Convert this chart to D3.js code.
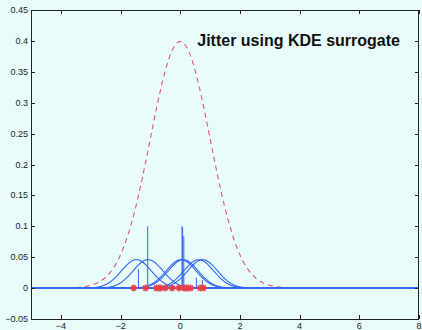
<!DOCTYPE html>
<html>
<head>
<meta charset="utf-8">
<script src="https://cdn.jsdelivr.net/npm/d3@7"></script>
<style>
  html, body { margin: 0; padding: 0; background: #e8fcfc; }
  svg { display: block; }
  text { font-family: "Liberation Sans", Arial, Helvetica, sans-serif; }
</style>
</head>
<body>
<svg id="chart" width="422" height="330"></svg>
<script>
// Axis extents and tick values
const xDomain = [-5, 8];
const yDomain = [-0.05, 0.45];
const xTicks = [-4, -2, 0, 2, 4, 6, 8];
const yTicks = [-0.05, 0, 0.05, 0.1, 0.15, 0.2, 0.25, 0.3, 0.35, 0.4, 0.45];

// Observed sample points (red stars)
const samplePoints = [-1.56, -1.16, -0.80, -0.72, -0.66, -0.50, -0.27, -0.04, 0.12, 0.20, 0.27, 0.35, 0.67, 0.78];

// Kernel centres, bandwidth and peak height of the KDE surrogate bumps
const kernelCenters = [-1.47, -1.08, 0.03, 0.10, 0.62, 0.75];
const kernelBandwidth = 0.5;
const kernelPeak = 0.046;

// Jittered point masses drawn as stems
const stemX = [-1.40, -1.09, 0.06, 0.08, 0.12, 0.54, 0.74];
const stemY = [0.031, 0.100, 0.100, 0.098, 0.084, 0.017, 0.013];

// Reference density: standard normal
const refMean = 0, refSd = 1;

const title = "Jitter using KDE surrogate";
const titlePos = [0.57, 0.392];

const svg = d3.select("#chart");
const plot = { left: 31, right: 419, top: 10, bottom: 319 };

const x = d3.scaleLinear().domain(xDomain).range([plot.left, plot.right]);
const y = d3.scaleLinear().domain(yDomain).range([plot.bottom, plot.top]);

const grid = d3.range(xDomain[0], xDomain[1] + 1e-9, 0.01);
const gauss = (t, m, s) => Math.exp(-0.5 * ((t - m) / s) ** 2);
const line = d3.line().x(d => x(d[0])).y(d => y(d[1]));

svg.append("clipPath").attr("id", "plotClip")
  .append("rect")
  .attr("x", plot.left).attr("y", plot.top)
  .attr("width", plot.right - plot.left).attr("height", plot.bottom - plot.top);

const g = svg.append("g").attr("clip-path", "url(#plotClip)");

// Reference normal density, dashed
g.append("path")
  .datum(grid.map(t => [t, gauss(t, refMean, refSd) / (refSd * Math.sqrt(2 * Math.PI))]))
  .attr("d", line)
  .attr("fill", "none")
  .attr("stroke", "#e0566a")
  .attr("stroke-width", 1.1)
  .attr("stroke-dasharray", "5,4");

// Individual kernel bumps
g.selectAll("path.kernel")
  .data(kernelCenters)
  .join("path")
  .attr("class", "kernel")
  .attr("d", c => line(grid.map(t => [t, kernelPeak * gauss(t, c, kernelBandwidth)])))
  .attr("fill", "none")
  .attr("stroke", "#3366f8")
  .attr("stroke-width", 1.1);

// Baseline of the kernels
g.append("line")
  .attr("x1", x(xDomain[0])).attr("x2", x(xDomain[1]))
  .attr("y1", y(0)).attr("y2", y(0))
  .attr("stroke", "#3366f8").attr("stroke-width", 2);

// Stems for the jittered masses
g.selectAll("line.stem")
  .data(stemX.map((v, i) => [v, stemY[i]]))
  .join("line")
  .attr("class", "stem")
  .attr("x1", d => x(d[0])).attr("x2", d => x(d[0]))
  .attr("y1", y(0)).attr("y2", d => y(d[1]))
  .attr("stroke", "#3366f8")
  .attr("stroke-width", 1);

// Sample points as asterisks
const star = r => `M${-r},0L${r},0M0,${-r}L0,${r}M${-r*0.7},${-r*0.7}L${r*0.7},${r*0.7}M${-r*0.7},${r*0.7}L${r*0.7},${-r*0.7}`;
g.selectAll("path.sample")
  .data(samplePoints)
  .join("path")
  .attr("class", "sample")
  .attr("transform", d => `translate(${x(d)},${y(0)})`)
  .attr("d", star(3.5))
  .attr("fill", "none")
  .attr("stroke", "#e8404a")
  .attr("stroke-width", 1.6);

// Axes box with inward ticks on all four sides
const frame = svg.append("g");
frame.append("rect")
  .attr("x", plot.left + 0.5).attr("y", plot.top + 0.5)
  .attr("width", plot.right - plot.left - 1).attr("height", plot.bottom - plot.top)
  .attr("fill", "none").attr("stroke", "#222").attr("stroke-width", 1);

const tickLen = 4;
xTicks.forEach(t => {
  const px = Math.round(x(t)) + 0.5;
  frame.append("line").attr("x1", px).attr("x2", px)
    .attr("y1", plot.bottom).attr("y2", plot.bottom - tickLen).attr("stroke", "#222");
  frame.append("line").attr("x1", px).attr("x2", px)
    .attr("y1", plot.top).attr("y2", plot.top + tickLen).attr("stroke", "#222");
});
yTicks.forEach(t => {
  const py = Math.round(y(t)) + 0.5;
  frame.append("line").attr("x1", plot.left).attr("x2", plot.left + tickLen)
    .attr("y1", py).attr("y2", py).attr("stroke", "#222");
  frame.append("line").attr("x1", plot.right).attr("x2", plot.right - tickLen)
    .attr("y1", py).attr("y2", py).attr("stroke", "#222");
});

const fmt = v => (v < 0 ? "\u2212" : "") + String(Math.abs(+v.toFixed(2)));

svg.append("g").selectAll("text")
  .data(xTicks)
  .join("text")
  .attr("x", d => x(d))
  .attr("y", plot.bottom + 10)
  .attr("text-anchor", "middle")
  .attr("font-size", 9)
  .attr("fill", "#222")
  .text(fmt);

svg.append("g").selectAll("text")
  .data(yTicks)
  .join("text")
  .attr("x", plot.left - 3)
  .attr("y", d => y(d) + 3)
  .attr("text-anchor", "end")
  .attr("font-size", 9)
  .attr("fill", "#222")
  .text(fmt);

svg.append("text")
  .attr("x", x(titlePos[0]))
  .attr("y", y(titlePos[1]))
  .attr("font-size", 16)
  .attr("font-weight", "bold")
  .attr("fill", "#111")
  .text(title);
</script>
</body>
</html>
